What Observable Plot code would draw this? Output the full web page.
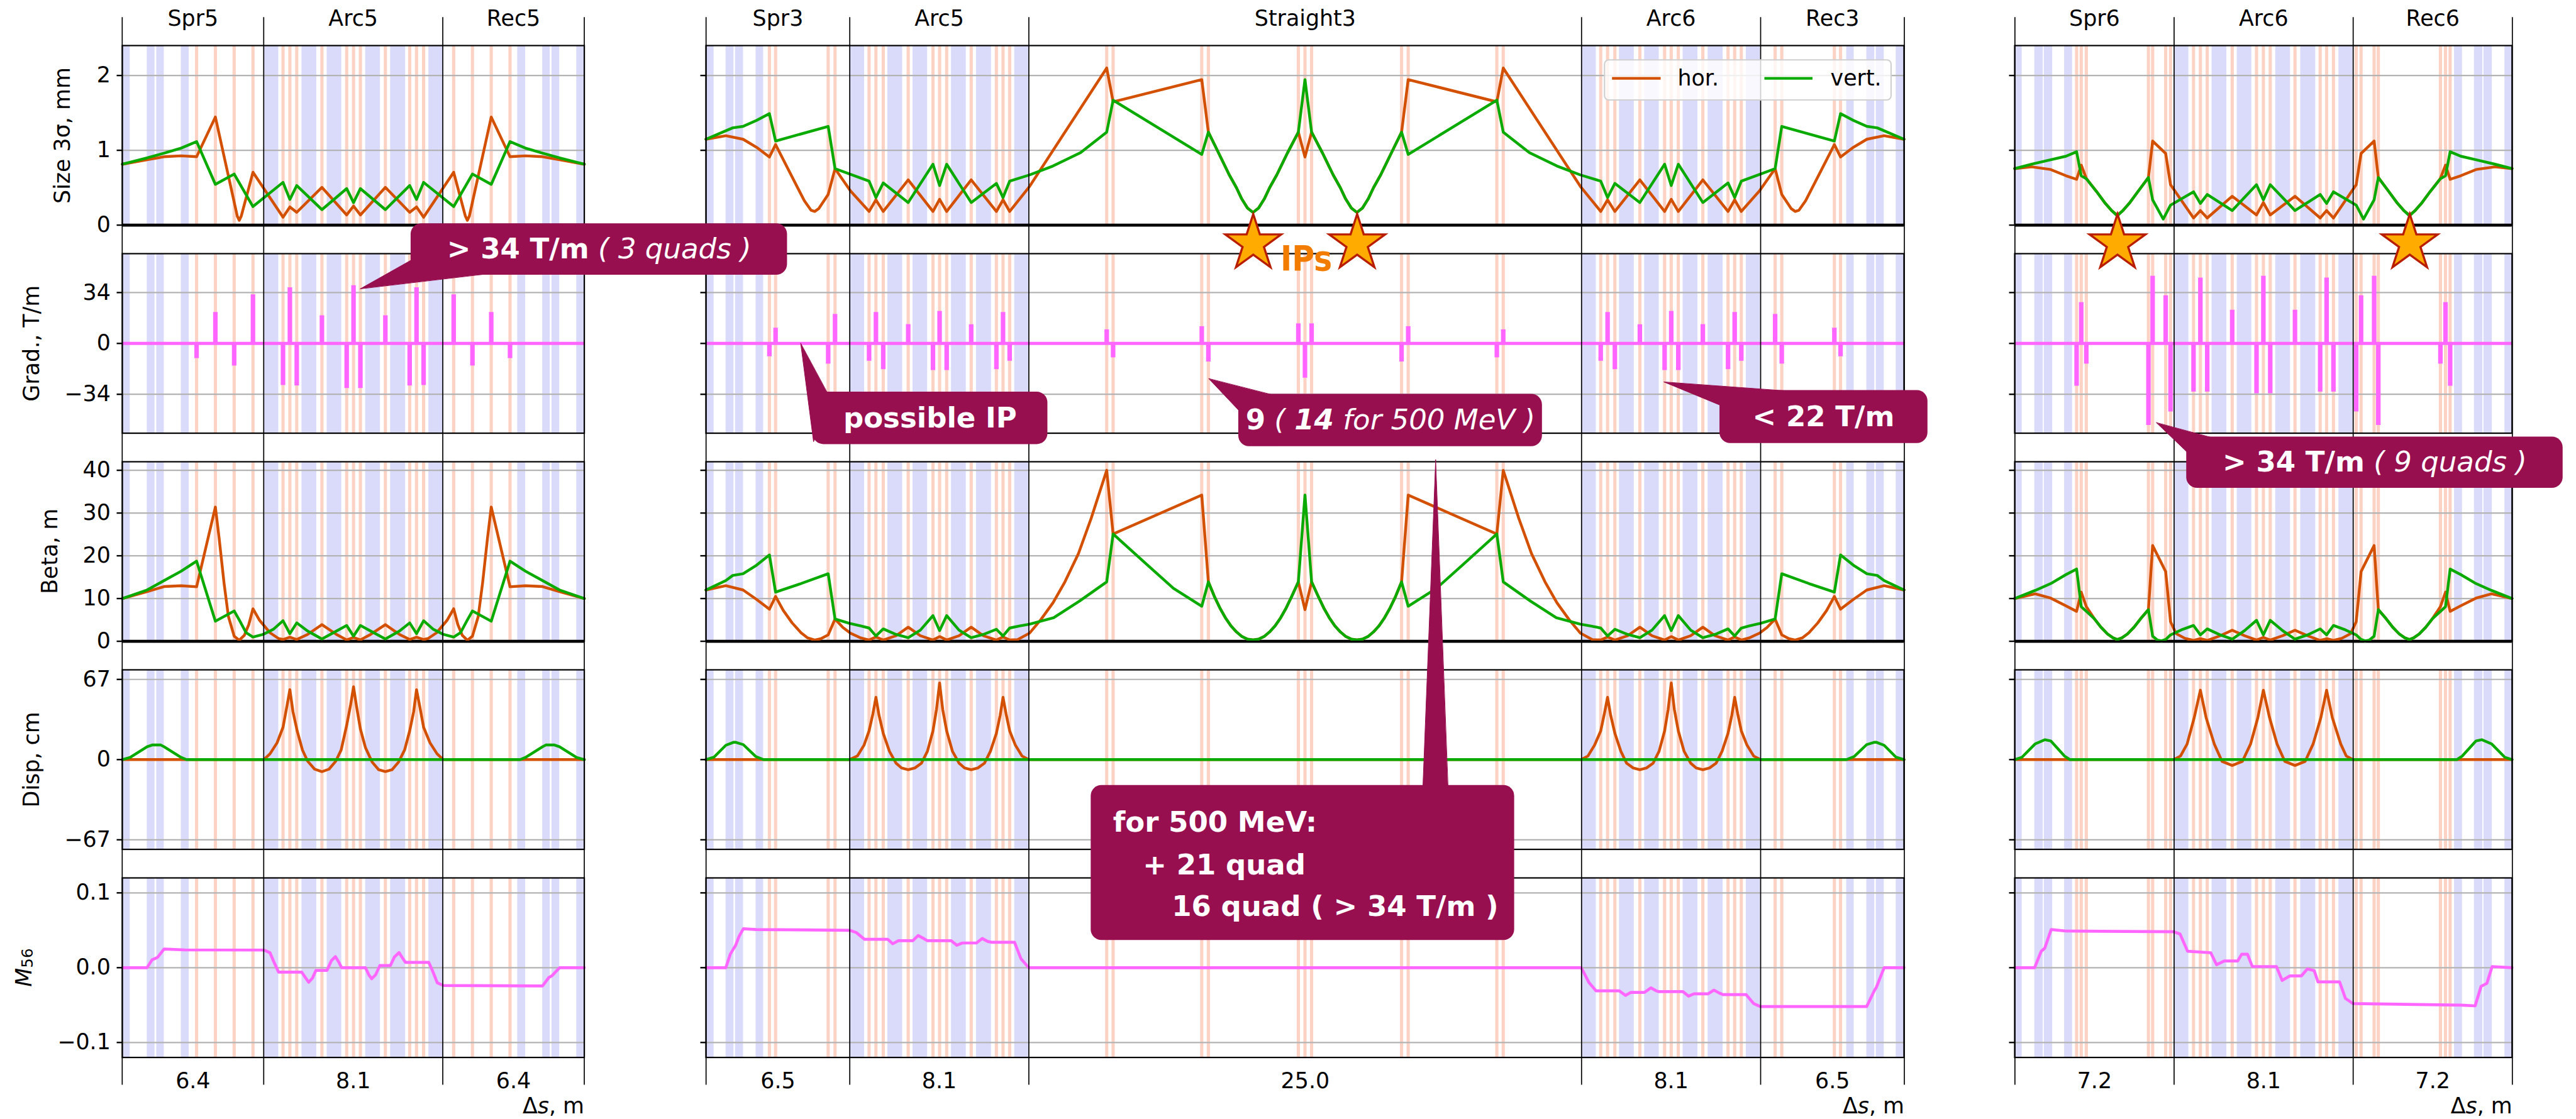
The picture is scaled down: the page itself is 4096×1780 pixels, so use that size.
<!DOCTYPE html>
<html>
<head>
<meta charset="utf-8">
<script src="https://cdn.jsdelivr.net/npm/d3@7"></script>
<script src="https://cdn.jsdelivr.net/npm/@observablehq/plot@0.6"></script>
<style>
  html, body { margin: 0; padding: 0; background: #fff; }
  #fig { position: relative; width: 4096px; height: 1780px; overflow: hidden; background: #fff; }
</style>
</head>
<body>
<div id="fig"></div>
<script>
// ---------------------------------------------------------------------------
// Lattice functions of three beamline groups (5 rows each) drawn along s.
// ---------------------------------------------------------------------------

// Sections of each group
const sectionNames = [["Spr5", "Arc5", "Rec5"], ["Spr3", "Arc5", "Straight3", "Arc6", "Rec3"], ["Spr6", "Arc6", "Rec6"]];
const sectionLengths = [[6.4, 8.1, 6.4], [6.5, 8.1, 25.0, 8.1, 6.5], [7.2, 8.1, 7.2]];

// Row labels, value ranges and tick values
const rowLabels = ["Size 3σ, mm", "Grad., T/m", "Beta, m", "Disp, cm", "M"];
const rowLabelSub = ["", "", "", "", "56"];
const rowDomains = [[0, 2.4], [-60, 60], [0, 42], [-75, 75], [-0.12, 0.12]];
const rowTicks = [[0, 1, 2], [-34, 0, 34], [0, 10, 20, 30, 40], [-67, 0, 67], [-0.1, 0, 0.1]];
const rowTickText = [["0", "1", "2"], ["−34", "0", "34"], ["0", "10", "20", "30", "40"], ["−67", "0", "67"], ["−0.1", "0.0", "0.1"]];

// Bending magnets [s start, s end] (m)
const bendsL = [[0,0.35],[1.12,1.47],[1.55,1.89],[2.66,3.02],[6.4,7.07],[8.12,8.79],[9.26,9.92],[11.0,11.67],[12.13,12.81],[13.86,14.52],[17.88,18.24],[19.01,19.35],[19.43,19.78],[20.55,20.9]];
const bendsM = [[0,0.36],[0.9,1.26],[1.33,1.69],[2.26,2.6],[6.5,7.17],[8.22,8.89],[9.36,10.02],[11.1,11.77],[12.23,12.91],[13.96,14.6],[39.6,40.27],[41.32,41.99],[42.46,43.12],[44.2,44.87],[45.33,46.01],[47.06,47.7],[51.6,51.94],[52.51,52.87],[52.94,53.3],[53.84,54.2]];
const bendsR = [[0,0.33],[0.9,1.28],[1.33,1.71],[2.25,2.61],[7.2,7.87],[8.92,9.59],[10.06,10.72],[11.8,12.47],[12.93,13.61],[14.66,15.3],[19.89,20.25],[20.79,21.17],[21.22,21.6],[22.17,22.5]];

// Quadrupoles [s (m), gradient (T/m)]
const quadsL = [[3.36,-10],[4.21,20.8],[5.06,-15],[5.91,32.6],[7.27,-28],[7.58,37.3],[7.89,-28.3],[9.03,18.6],[10.15,-30],[10.46,38.7],[10.77,-30],[11.9,18.6],[13.0,-28.3],[13.31,37.3],[13.63,-28],[14.99,32.6],[15.84,-15],[16.69,20.8],[17.54,-10]];
const quadsM = [[2.87,-8.8],[3.15,10.3],[5.53,-13.7],[5.84,19.5],[7.38,-11.8],[7.69,20.8],[8.02,-17.4],[9.15,12.7],[10.27,-18],[10.57,21.5],[10.89,-18],[12.0,12.6],[13.14,-17.4],[13.44,20.8],[13.74,-11.8],[18.13,9.2],[18.42,-9.5],[22.43,11.3],[22.73,-12.3],[26.8,13.2],[27.1,-23.1],[27.4,13.2],[31.47,-12.3],[31.77,11.3],[35.78,-9.5],[36.07,9.2],[40.48,-11.8],[40.79,20.8],[41.12,-17.4],[42.25,12.6],[43.37,-18],[43.67,21.5],[43.99,-18],[45.1,12.7],[46.24,-17.4],[46.54,20.8],[46.84,-11.8],[48.37,19.5],[48.67,-13.7],[51.05,10.3],[51.33,-8.8]];
const quadsR = [[2.8,-28.5],[3.01,27.4],[3.24,-13.7],[6.05,-54.7],[6.24,45],[6.83,32],[7.05,-45.7],[8.09,-32.4],[8.4,43.8],[8.71,-32.4],[9.84,22.3],[10.94,-33.5],[11.25,45],[11.56,-33.5],[12.68,22.3],[13.82,-32.4],[14.11,43.8],[14.42,-32.4],[15.45,-45.7],[15.67,32],[16.26,45],[16.45,-54.7],[19.26,-13.7],[19.49,27.4],[19.7,-28.5]];

// Beam size 3σ (mm): horizontal / vertical
const sizeHorL = [[0,0.814],[1.12,0.874],[1.89,0.914],[2.66,0.926],[3.36,0.914],[4.21,1.445],[5.2,0.12],[5.29,0.064],[5.38,0.12],[5.91,0.707],[7.27,0.105],[7.58,0.243],[7.89,0.171],[9.03,0.505],[10.15,0.136],[10.46,0.255],[10.77,0.136],[11.9,0.505],[13.0,0.171],[13.31,0.243],[13.63,0.105],[14.99,0.707],[15.52,0.12],[15.61,0.064],[15.7,0.12],[16.69,1.445],[17.54,0.914],[18.24,0.926],[19.01,0.914],[19.78,0.874],[20.9,0.814]];
const sizeVertL = [[0,0.814],[1.12,0.898],[1.89,0.962],[2.66,1.029],[3.36,1.117],[4.21,0.545],[5.06,0.683],[5.91,0.248],[7.27,0.571],[7.58,0.343],[7.89,0.529],[9.03,0.207],[10.15,0.488],[10.46,0.302],[10.77,0.488],[11.9,0.207],[13.0,0.529],[13.31,0.343],[13.63,0.571],[14.99,0.248],[15.84,0.683],[16.69,0.545],[17.54,1.117],[18.24,1.029],[19.01,0.962],[19.78,0.898],[20.9,0.814]];
const sizeHorM = [[0,1.148],[0.9,1.195],[1.68,1.148],[2.29,1.04],[2.87,0.91],[3.15,1.076],[4.45,0.326],[4.75,0.2],[4.92,0.183],[5.1,0.22],[5.53,0.41],[5.84,0.755],[6.54,0.457],[7.38,0.183],[7.69,0.338],[8.02,0.183],[9.15,0.605],[10.27,0.183],[10.57,0.345],[10.89,0.183],[12.0,0.605],[13.14,0.183],[13.44,0.338],[13.74,0.183],[14.64,0.517],[18.13,2.1],[18.42,1.648],[22.43,1.945],[22.73,1.243],[23.2,0.96],[23.67,0.674],[24.0,0.5],[24.24,0.35],[24.5,0.228],[24.75,0.17],[25.0,0.228],[25.26,0.35],[25.5,0.5],[25.83,0.674],[26.3,0.96],[26.8,1.243],[27.1,0.91],[27.4,1.243],[27.9,0.96],[28.37,0.674],[28.7,0.5],[28.94,0.35],[29.2,0.228],[29.45,0.17],[29.7,0.228],[29.96,0.35],[30.2,0.5],[30.53,0.674],[31.0,0.96],[31.47,1.243],[31.77,1.945],[35.78,1.648],[36.07,2.1],[39.56,0.517],[40.48,0.183],[40.79,0.338],[41.12,0.183],[42.25,0.605],[43.37,0.183],[43.67,0.345],[43.99,0.183],[45.1,0.605],[46.24,0.183],[46.54,0.338],[46.84,0.183],[47.66,0.457],[48.37,0.755],[48.67,0.41],[49.1,0.22],[49.28,0.183],[49.45,0.2],[49.75,0.326],[51.05,1.076],[51.33,0.91],[51.91,1.04],[52.52,1.148],[53.3,1.195],[54.2,1.148]];
const sizeVertM = [[0,1.148],[1.21,1.30],[1.68,1.32],[2.29,1.40],[2.87,1.49],[3.15,1.124],[5.53,1.32],[5.84,0.755],[7.38,0.588],[7.69,0.369],[8.02,0.564],[9.15,0.302],[10.27,0.814],[10.57,0.529],[10.89,0.814],[12.0,0.302],[13.14,0.557],[13.44,0.369],[13.74,0.588],[14.64,0.671],[15.7,0.79],[16.95,0.97],[18.13,1.243],[18.42,1.67],[22.43,0.945],[22.73,1.243],[23.2,0.96],[23.67,0.674],[24.0,0.5],[24.24,0.35],[24.5,0.228],[24.75,0.17],[25.0,0.228],[25.26,0.35],[25.5,0.5],[25.83,0.674],[26.3,0.96],[26.8,1.243],[27.1,1.945],[27.4,1.243],[27.9,0.96],[28.37,0.674],[28.7,0.5],[28.94,0.35],[29.2,0.228],[29.45,0.17],[29.7,0.228],[29.96,0.35],[30.2,0.5],[30.53,0.674],[31.0,0.96],[31.47,1.243],[31.77,0.945],[35.78,1.67],[36.07,1.243],[37.25,0.97],[38.5,0.79],[39.56,0.671],[40.48,0.588],[40.79,0.369],[41.12,0.557],[42.25,0.302],[43.37,0.814],[43.67,0.529],[43.99,0.814],[45.1,0.302],[46.24,0.564],[46.54,0.369],[46.84,0.588],[48.37,0.755],[48.67,1.32],[51.05,1.124],[51.33,1.49],[51.91,1.40],[52.52,1.32],[52.99,1.30],[54.2,1.148]];
const sizeHorR = [[0,0.755],[0.77,0.779],[1.63,0.743],[2.32,0.66],[2.8,0.612],[3.01,0.802],[3.24,0.624],[3.7,0.45],[4.1,0.29],[4.4,0.19],[4.64,0.136],[4.88,0.19],[5.18,0.29],[5.58,0.45],[6.05,0.636],[6.24,1.124],[6.83,0.957],[7.05,0.54],[8.09,0.095],[8.4,0.195],[8.71,0.095],[9.84,0.386],[10.94,0.136],[11.25,0.3],[11.56,0.136],[12.68,0.386],[13.82,0.095],[14.11,0.195],[14.42,0.095],[15.45,0.54],[15.67,0.957],[16.26,1.124],[16.45,0.636],[16.92,0.45],[17.32,0.29],[17.62,0.19],[17.86,0.136],[18.1,0.19],[18.4,0.29],[18.8,0.45],[19.26,0.624],[19.49,0.802],[19.7,0.612],[20.18,0.66],[20.87,0.743],[21.73,0.779],[22.5,0.755]];
const sizeVertR = [[0,0.755],[0.77,0.814],[1.63,0.874],[2.32,0.921],[2.8,0.981],[3.01,0.66],[3.24,0.62],[3.7,0.45],[4.1,0.29],[4.4,0.19],[4.64,0.124],[4.88,0.19],[5.18,0.29],[5.58,0.45],[6.05,0.636],[6.24,0.338],[6.72,0.081],[7.05,0.267],[8.09,0.445],[8.4,0.29],[8.71,0.41],[9.84,0.195],[10.94,0.54],[11.25,0.338],[11.56,0.54],[12.68,0.195],[13.82,0.41],[14.11,0.29],[14.42,0.445],[15.45,0.267],[15.78,0.081],[16.26,0.338],[16.45,0.636],[16.92,0.45],[17.32,0.29],[17.62,0.19],[17.86,0.124],[18.1,0.19],[18.4,0.29],[18.8,0.45],[19.26,0.62],[19.49,0.66],[19.7,0.981],[20.18,0.921],[20.87,0.874],[21.73,0.814],[22.5,0.755]];

// Beta functions (m): horizontal / vertical
const betaHorL = [[0,10],[1.12,11.6],[1.89,12.8],[2.66,13.0],[3.36,12.75],[4.21,31.4],[4.38,24.1],[4.6,13.7],[4.8,5.75],[5.06,1.2],[5.29,0.25],[5.52,1.4],[5.72,3.9],[5.91,7.6],[6.21,4.9],[6.68,2.0],[7.06,0.67],[7.27,0.42],[7.58,0.96],[7.89,0.42],[8.38,1.6],[9.03,3.9],[9.69,1.6],[10.15,0.33],[10.46,0.9],[10.77,0.33],[11.23,1.6],[11.9,3.9],[12.54,1.6],[13.0,0.42],[13.31,0.96],[13.63,0.42],[13.84,0.67],[14.22,2.0],[14.69,4.9],[14.99,7.6],[15.18,3.9],[15.38,1.4],[15.61,0.25],[15.84,1.2],[16.1,5.75],[16.3,13.7],[16.52,24.1],[16.69,31.4],[17.54,12.75],[18.24,13.0],[19.01,12.8],[19.78,11.6],[20.9,10]];
const betaVertL = [[0,10],[1.12,12.0],[1.89,14.2],[2.66,16.4],[3.36,18.75],[4.21,4.7],[5.06,7.1],[5.3,4.9],[5.6,2.0],[5.91,1.0],[6.37,1.6],[6.83,2.8],[7.27,4.8],[7.58,1.8],[7.89,4.3],[8.38,2.4],[9.03,0.54],[9.69,2.4],[10.15,3.7],[10.46,1.2],[10.77,3.7],[11.23,2.4],[11.9,0.54],[12.54,2.4],[13.0,4.3],[13.31,1.8],[13.63,4.8],[14.07,2.8],[14.53,1.6],[14.99,1.0],[15.3,2.0],[15.6,4.9],[15.84,7.1],[16.69,4.7],[17.54,18.75],[18.24,16.4],[19.01,14.2],[19.78,12.0],[20.9,10]];
const betaHorM = [[0,12.0],[0.9,13.0],[1.68,12.0],[2.29,9.8],[2.87,7.5],[3.15,10.5],[3.5,7.2],[3.9,4.3],[4.3,2.0],[4.6,0.8],[4.92,0.3],[5.2,0.6],[5.53,1.5],[5.84,5.2],[6.2,3.2],[6.54,1.9],[7.0,0.8],[7.38,0.3],[7.69,1.0],[8.02,0.3],[8.6,1.3],[9.15,3.3],[9.7,1.3],[10.27,0.3],[10.57,1.1],[10.89,0.3],[11.45,1.3],[12.0,3.3],[12.55,1.3],[13.14,0.3],[13.44,1.0],[13.74,0.3],[14.1,0.4],[14.64,1.9],[15.14,5.0],[15.7,9.0],[16.24,13.9],[16.85,20.5],[17.43,28.8],[18.13,40.0],[18.42,25.1],[22.43,34.2],[22.73,13.9],[23.0,10.5],[23.25,7.8],[23.5,5.5],[23.75,3.6],[24.0,2.2],[24.25,1.1],[24.5,0.5],[24.75,0.3],[25.0,0.5],[25.25,1.1],[25.5,2.2],[25.75,3.6],[26.0,5.5],[26.25,7.8],[26.5,10.5],[26.8,13.9],[27.1,7.4],[27.4,13.9],[27.7,10.5],[27.95,7.8],[28.2,5.5],[28.45,3.6],[28.7,2.2],[28.95,1.1],[29.2,0.5],[29.45,0.3],[29.7,0.5],[29.95,1.1],[30.2,2.2],[30.45,3.6],[30.7,5.5],[30.95,7.8],[31.2,10.5],[31.47,13.9],[31.77,34.2],[35.78,25.1],[36.07,40.0],[36.77,28.8],[37.35,20.5],[37.96,13.9],[38.5,9.0],[39.06,5.0],[39.56,1.9],[40.1,0.4],[40.48,0.3],[40.79,1.0],[41.12,0.3],[41.7,1.3],[42.25,3.3],[42.8,1.3],[43.37,0.3],[43.67,1.1],[43.99,0.3],[44.55,1.3],[45.1,3.3],[45.65,1.3],[46.24,0.3],[46.54,1.0],[46.84,0.3],[47.2,0.8],[47.66,1.9],[48.0,3.2],[48.37,5.2],[48.67,1.5],[49.0,0.6],[49.28,0.3],[49.6,0.8],[49.9,2.0],[50.3,4.3],[50.7,7.2],[51.05,10.5],[51.33,7.5],[51.91,9.8],[52.52,12.0],[53.3,13.0],[54.2,12.0]];
const betaVertM = [[0,12.0],[0.9,14.2],[1.21,15.4],[1.68,15.8],[2.29,17.8],[2.87,20.2],[3.15,11.5],[4.3,13.5],[5.53,15.8],[5.84,5.2],[6.5,4.2],[7.0,3.6],[7.38,3.1],[7.69,1.24],[8.02,2.9],[8.6,1.6],[9.15,0.83],[9.7,2.6],[10.27,6.0],[10.57,2.5],[10.89,6.0],[11.45,2.6],[12.0,0.83],[12.55,1.6],[13.14,2.8],[13.44,1.24],[13.74,3.1],[14.2,3.6],[14.64,4.0],[15.73,5.5],[16.9,9.4],[18.13,13.9],[18.42,25.1],[19.96,17.9],[21.15,12.4],[22.43,8.2],[22.73,13.9],[23.0,10.5],[23.25,7.8],[23.5,5.5],[23.75,3.6],[24.0,2.2],[24.25,1.1],[24.5,0.5],[24.75,0.3],[25.0,0.5],[25.25,1.1],[25.5,2.2],[25.75,3.6],[26.0,5.5],[26.25,7.8],[26.5,10.5],[26.8,13.9],[27.1,34.2],[27.4,13.9],[27.7,10.5],[27.95,7.8],[28.2,5.5],[28.45,3.6],[28.7,2.2],[28.95,1.1],[29.2,0.5],[29.45,0.3],[29.7,0.5],[29.95,1.1],[30.2,2.2],[30.45,3.6],[30.7,5.5],[30.95,7.8],[31.2,10.5],[31.47,13.9],[31.77,8.2],[33.05,12.4],[34.24,17.9],[35.78,25.1],[36.07,13.9],[37.3,9.4],[38.47,5.5],[39.56,4.0],[40.0,3.6],[40.48,3.1],[40.79,1.24],[41.12,2.8],[41.7,1.6],[42.25,0.83],[42.8,2.6],[43.37,6.0],[43.67,2.5],[43.99,6.0],[44.55,2.6],[45.1,0.83],[45.65,1.6],[46.24,2.9],[46.54,1.24],[46.84,3.1],[47.2,3.6],[47.7,4.2],[48.37,5.2],[48.67,15.8],[49.9,13.5],[51.05,11.5],[51.33,20.2],[51.91,17.8],[52.52,15.8],[52.99,15.4],[53.3,14.2],[54.2,12.0]];
const betaHorR = [[0,10],[0.93,11.1],[1.63,10.1],[2.32,8.3],[2.8,7.0],[3.01,11.5],[3.24,8.1],[3.6,5.3],[3.9,3.3],[4.2,1.7],[4.45,0.8],[4.64,0.4],[4.85,0.8],[5.1,1.7],[5.4,3.3],[5.7,5.3],[6.05,7.4],[6.24,22.4],[6.83,16.3],[7.05,4.6],[7.3,1.8],[7.7,0.7],[8.09,0.2],[8.4,0.6],[8.71,0.2],[9.3,1.3],[9.84,2.6],[10.4,1.3],[10.94,0.3],[11.25,0.9],[11.56,0.3],[12.12,1.3],[12.68,2.6],[13.25,1.3],[13.82,0.2],[14.11,0.6],[14.42,0.2],[14.8,0.7],[15.2,1.8],[15.45,4.6],[15.67,16.3],[16.26,22.4],[16.45,7.4],[16.8,5.3],[17.1,3.3],[17.4,1.7],[17.65,0.8],[17.86,0.4],[18.05,0.8],[18.3,1.7],[18.6,3.3],[18.9,5.3],[19.26,8.1],[19.49,11.5],[19.7,7.0],[20.18,8.3],[20.87,10.1],[21.57,11.1],[22.5,10]];
const betaVertR = [[0,10],[0.93,11.9],[1.63,13.5],[2.32,15.6],[2.8,16.9],[3.01,8.1],[3.24,7.0],[3.6,5.3],[3.9,3.3],[4.2,1.7],[4.45,0.8],[4.64,0.4],[4.85,0.8],[5.1,1.7],[5.4,3.3],[5.7,5.3],[6.05,7.4],[6.24,1.2],[6.45,0.3],[6.65,0.1],[6.85,0.5],[7.05,1.5],[7.6,2.8],[8.09,3.7],[8.4,1.5],[8.71,2.9],[9.3,1.5],[9.84,0.5],[10.4,2.5],[10.94,4.9],[11.25,1.5],[11.56,4.9],[12.12,2.5],[12.68,0.5],[13.25,1.5],[13.82,2.9],[14.11,1.5],[14.42,3.7],[14.9,2.8],[15.45,1.5],[15.65,0.5],[15.85,0.1],[16.05,0.3],[16.26,1.2],[16.45,7.4],[16.8,5.3],[17.1,3.3],[17.4,1.7],[17.65,0.8],[17.86,0.4],[18.05,0.8],[18.3,1.7],[18.6,3.3],[18.9,5.3],[19.26,7.0],[19.49,8.1],[19.7,16.9],[20.18,15.6],[20.87,13.5],[21.57,11.9],[22.5,10]];

// Dispersion (cm): horizontal / vertical
const dispHorL = [[0,0],[6.4,0],[6.68,4.8],[7.0,14],[7.27,27],[7.45,45],[7.58,58.4],[7.72,40],[7.91,24],[8.15,8],[8.38,-1.2],[8.7,-8],[9.03,-10.1],[9.35,-8],[9.65,-1.5],[9.9,8],[10.15,28.6],[10.33,46],[10.46,60.8],[10.6,44],[10.77,25.6],[11.0,10],[11.3,-2],[11.6,-8.5],[11.9,-10],[12.2,-8.5],[12.5,-2],[12.77,8],[13.0,24],[13.18,40],[13.31,58.4],[13.45,45],[13.63,27],[13.92,14],[14.24,4.8],[14.52,0],[20.9,0]];
const dispVertL = [[0,0],[0.35,1.8],[1.12,10.7],[1.35,12.2],[1.74,12.2],[1.89,10.7],[2.66,1.8],[2.9,0],[18.0,0],[18.24,1.8],[19.01,10.7],[19.16,12.2],[19.55,12.2],[19.78,10.7],[20.55,1.8],[20.9,0]];
const dispHorM = [[0,0],[6.5,0],[6.85,3],[7.15,12],[7.38,24],[7.55,38],[7.69,52],[7.83,37],[8.02,22],[8.3,7],[8.6,-3],[8.85,-7],[9.15,-8.5],[9.45,-7],[9.75,-3],[10.02,7],[10.27,24],[10.43,42],[10.57,64],[10.71,42],[10.89,24],[11.15,7],[11.45,-3],[11.7,-7],[12.0,-8.5],[12.3,-7],[12.6,-3],[12.87,7],[13.14,22],[13.31,37],[13.44,52],[13.58,38],[13.74,24],[14.0,12],[14.3,3],[14.6,0],[39.6,0],[39.9,3],[40.2,12],[40.48,24],[40.64,38],[40.79,52],[40.93,37],[41.12,22],[41.39,7],[41.65,-3],[41.95,-7],[42.25,-8.5],[42.55,-7],[42.85,-3],[43.12,7],[43.37,24],[43.53,42],[43.67,64],[43.81,42],[43.99,24],[44.25,7],[44.55,-3],[44.8,-7],[45.1,-8.5],[45.4,-7],[45.7,-3],[45.97,7],[46.24,22],[46.41,37],[46.54,52],[46.68,38],[46.84,24],[47.1,12],[47.4,3],[47.7,0],[54.2,0]];
const dispVertM = [[0,0],[0.36,2],[0.9,12],[1.26,14.5],[1.33,14.5],[1.69,12.5],[2.26,2.5],[2.6,0],[51.6,0],[51.94,2.5],[52.51,12.5],[52.87,14.5],[52.94,14.5],[53.3,12],[53.84,2],[54.2,0]];
const dispHorR = [[0,0],[7.2,0],[7.5,3],[7.8,13],[8.12,35],[8.4,58],[8.66,35],[9.03,13],[9.38,-1.5],[9.84,-4.9],[10.3,-1.5],[10.67,13],[11.0,35],[11.25,58],[11.53,35],[11.87,13],[12.22,-1.5],[12.68,-4.9],[13.14,-1.5],[13.5,13],[13.85,35],[14.11,58],[14.37,35],[14.75,13],[15.0,3],[15.3,0],[22.5,0]];
const dispVertR = [[0,0],[0.33,2],[0.93,13.2],[1.36,16.6],[1.63,15.6],[2.25,3],[2.5,0],[20.0,0],[20.25,3],[20.87,15.6],[21.14,16.6],[21.57,13.2],[22.17,2],[22.5,0]];

// Longitudinal transfer element M56
const m56L = [[0,0],[1.12,0],[1.35,0.0107],[1.5,0.0124],[1.6,0.014],[1.89,0.025],[2.82,0.0238],[6.4,0.0236],[6.68,0.020],[6.83,0.0095],[7.07,-0.006],[8.12,-0.006],[8.3,-0.014],[8.43,-0.0195],[8.6,-0.014],[8.76,-0.0036],[9.26,-0.0036],[9.46,0.0095],[9.64,0.0148],[9.8,0.0071],[9.92,0],[11.0,0],[11.15,-0.0095],[11.28,-0.0148],[11.46,-0.0095],[11.65,0.0029],[12.13,0.0029],[12.31,0.0143],[12.52,0.0202],[12.7,0.0119],[12.81,0.0071],[13.86,0.0071],[14.01,-0.0024],[14.25,-0.0202],[14.52,-0.0238],[19.01,-0.0245],[19.3,-0.013],[19.43,-0.011],[19.78,0],[20.9,0]];
const m56M = [[0,0],[0.9,0],[1.1,0.018],[1.26,0.026],[1.33,0.029],[1.5,0.042],[1.69,0.052],[2.26,0.051],[6.5,0.05],[6.8,0.047],[7.17,0.038],[8.22,0.038],[8.45,0.032],[8.7,0.036],[9.36,0.036],[9.6,0.043],[9.85,0.039],[10.02,0.036],[11.1,0.036],[11.35,0.03],[11.6,0.033],[12.23,0.033],[12.5,0.039],[12.75,0.035],[12.91,0.034],[13.96,0.034],[14.25,0.012],[14.6,0],[39.6,0],[39.95,-0.02],[40.27,-0.031],[41.32,-0.031],[41.6,-0.037],[41.85,-0.033],[42.46,-0.033],[42.75,-0.027],[43.0,-0.031],[43.12,-0.032],[44.2,-0.032],[44.45,-0.038],[44.7,-0.035],[45.33,-0.035],[45.6,-0.03],[45.85,-0.034],[46.01,-0.036],[47.06,-0.036],[47.4,-0.048],[47.7,-0.052],[52.51,-0.052],[52.87,-0.03],[52.94,-0.027],[53.3,0],[54.2,0]];
const m56R = [[0,0],[0.9,0],[1.2,0.022],[1.36,0.026],[1.65,0.051],[2.32,0.049],[7.2,0.048],[7.48,0.045],[7.82,0.022],[8.87,0.02],[9.13,0.004],[9.48,0.009],[10.09,0.009],[10.27,0.018],[10.53,0.018],[10.75,0.0015],[11.84,0.0015],[12.1,-0.017],[12.45,-0.011],[12.97,-0.011],[13.24,-0.0016],[13.55,-0.004],[13.72,-0.019],[14.7,-0.019],[14.96,-0.041],[15.3,-0.048],[20.2,-0.05],[20.83,-0.051],[21.1,-0.025],[21.36,-0.021],[21.6,0.0015],[22.5,0]];

// Interaction points: [group, s]
const interactionPoints = [[1, 24.75], [1, 29.45], [2, 4.64], [2, 17.86]];

// Callout texts: each part is [text, style] with style b = bold, i = italic
const calloutTexts = [
  [[["> 34 T/m", "b"], [" ( 3 quads )", "i"]]],
  [[["possible IP", "b"]]],
  [[["9", "b"], [" ( ", "i"], ["14", "bi"], [" for 500 MeV )", "i"]]],
  [[["< 22 T/m", "b"]]],
  [[["> 34 T/m", "b"], [" ( 9 quads )", "i"]]],
  [[["for 500 MeV:", "b"]], [["+ 21 quad", "b"]], [["16 quad ( > 34 T/m )", "b"]]]
];
// Points the callouts aim at: [group, row, s, value]
const calloutTargets = [[0, 1, 10.77, 36.5], [1, 1, 4.28, 0], [1, 1, 22.74, -23.6], [1, 1, 43.33, -25.8], [2, 1, 6.4, -53], [1, 2, 33.0, 42.4]];

// ---------------------------------------------------------------------------
// Layout (reference units; everything is drawn at K of that size)
// ---------------------------------------------------------------------------
const K = 0.85;
const FONT = "DejaVu Sans";
const PXM = 41.35;                       // units per metre along s
const GROUP_X0 = [228, 1320, 3768];
const ROW_TOPS = [85, 474, 863, 1253, 1642];
const ROW_H = 336;
const HEADER_Y = 35, RULE_Y1 = 32, RULE_Y2 = 2030, LENGTH_Y = 2023, DS_Y = 2070;
const YLABEL_X = [117, 59, 93, 59, 45];
const FS = 41, FS_SUB = 29, FS_NOTE = 53, FS_IPS = 64;
const STAR_Y = 455;
const LEGEND = {x1: 3001, x2: 3537, y1: 112, y2: 187, y: 146, items: [[3015, 3106, 3137, "hor."], [3300, 3390, 3423, "vert."]]};
const CALLOUT_BOX = [[768, 1472, 418, 514], [1520, 1959, 733, 831], [2316, 2884, 737, 835], [3216, 3605, 730, 829], [4089, 4793, 817, 913], [2040, 2832, 1469, 1759]];
const CALLOUT_BASE = [[[815, 460], [934, 509]], [[1521, 826], [1556, 752]], [[2333, 785], [2397, 743]], [[3237, 766], [3437, 738]], [[4100, 855], [4160, 825]], [[2660, 1490], [2708, 1490]]];
const CALLOUT_TEXT_POS = [[[1120, 466, "middle"]], [[1739, 782, "middle"]], [[2600, 786, "middle"]], [[3410, 780, "middle"]], [[4441, 865, "middle"]], [[2081, 1539, "start"], [2137, 1619, "start"], [2191, 1696, "start"]]];

const HOR = "#d35000", VERT = "#0aaa00", MAGENTA = "#ff66ff";
const BEND_FILL = "#dadafa", QUAD_LINE = "#fcd2c5", GRID = "#b3b3b3";
const BOX = "#980f50", STAR_FILL = "#ffab00", STAR_EDGE = "#b81d00", IPS_COLOR = "#f27c00";
const LW_CURVE = 5.2, LW_BAR = 8.5, LW_BASE = 6, LW_M56 = 5.5, LW_QUAD = 6;

const bends = [bendsL, bendsM, bendsR];
const quads = [quadsL, quadsM, quadsR];
const planeSeries = {0: [[sizeHorL, sizeVertL], [sizeHorM, sizeVertM], [sizeHorR, sizeVertR]],
                     2: [[betaHorL, betaVertL], [betaHorM, betaVertM], [betaHorR, betaVertR]],
                     3: [[dispHorL, dispVertL], [dispHorM, dispVertM], [dispHorR, dispVertR]]};
const m56 = [m56L, m56M, m56R];

const fx = (g, s) => GROUP_X0[g] + s * PXM;
const fy = (p, v) => { const [lo, hi] = rowDomains[p]; return ROW_TOPS[p] + (hi - v) / (hi - lo) * ROW_H; };

const fig = document.getElementById("fig");
function place(el, left, top) {
  el.style.position = "absolute";
  el.style.left = left + "px";
  el.style.top = top + "px";
  el.style.maxWidth = "none";
  fig.appendChild(el);
}
const svgStyle = {background: "transparent", overflow: "visible", fontFamily: FONT};

// ---------------------------------------------------------------------------
// One plot per row and group
// ---------------------------------------------------------------------------
const xy = {x: d => d[0], y: d => d[1]};
for (let g = 0; g < 3; g++) {
  const len = d3.sum(sectionLengths[g]);
  for (let p = 0; p < 5; p++) {
    const [lo, hi] = rowDomains[p];
    const mL = 100, mR = 8, mT = 8, mB = 8;
    const w = len * PXM * K, h = ROW_H * K;
    const thickZero = p === 0 || p === 2;
    const fmt = new Map(rowTicks[p].map((t, i) => [t, rowTickText[p][i]]));
    const marks = [
      Plot.rect(bends[g], {x1: d => d[0], x2: d => d[1], y1: lo, y2: hi, fill: BEND_FILL}),
      Plot.ruleX(quads[g], {x: d => d[0], stroke: QUAD_LINE, strokeWidth: LW_QUAD * K}),
      Plot.ruleY(rowTicks[p].filter(t => !(thickZero && t === 0)), {stroke: GRID, strokeWidth: 2.6 * K})
    ];
    if (thickZero) marks.push(Plot.ruleY([0], {stroke: "#000", strokeWidth: 5.5 * K}));
    if (p === 1) {
      marks.push(Plot.ruleY([0], {stroke: MAGENTA, strokeWidth: LW_BASE * K}));
      marks.push(Plot.ruleX(quads[g], {x: d => d[0], y1: 0, y2: d => d[1], stroke: MAGENTA, strokeWidth: LW_BAR * K}));
    } else if (p === 4) {
      marks.push(Plot.line(m56[g], {...xy, stroke: MAGENTA, strokeWidth: LW_M56 * K, strokeLinejoin: "round"}));
    } else {
      const [hor, vert] = planeSeries[p][g];
      marks.push(Plot.line(hor, {...xy, stroke: HOR, strokeWidth: LW_CURVE * K, strokeLinejoin: "round"}));
      marks.push(Plot.line(vert, {...xy, stroke: VERT, strokeWidth: LW_CURVE * K, strokeLinejoin: "round"}));
    }
    marks.push(Plot.frame({stroke: "#000", strokeWidth: 2.6 * K}));
    marks.push(Plot.axisY(rowTicks[p], {
      label: null, tickSize: 10 * K, tickPadding: 12 * K, strokeWidth: 2.8 * K,
      fontSize: FS * K, fill: "#000", stroke: "#000",
      tickFormat: g === 0 ? (d => fmt.get(d)) : (() => "")
    }));
    const svg = Plot.plot({
      width: w + mL + mR, height: h + mT + mB,
      marginLeft: mL, marginRight: mR, marginTop: mT, marginBottom: mB,
      x: {domain: [0, len], axis: null},
      y: {domain: [lo, hi], label: null},
      style: svgStyle,
      marks
    });
    place(svg, GROUP_X0[g] * K - mL, ROW_TOPS[p] * K - mT);
  }
}

// ---------------------------------------------------------------------------
// Figure-level overlay: section rules and names, lengths, row labels,
// legend, interaction points and callouts
// ---------------------------------------------------------------------------
const ctx = document.createElement("canvas").getContext("2d");
function measure(t, size, st) {
  ctx.font = `${st.includes("i") ? "italic " : ""}${st.includes("b") ? "bold " : ""}${size * K}px "${FONT}"`;
  return ctx.measureText(t).width / K;
}
const segs = [];
function layoutParts(parts, x, y, anchor, size, fill) {
  const widths = parts.map(([t, st]) => measure(t, size, st));
  const total = d3.sum(widths);
  let cx = anchor === "middle" ? x - total / 2 : anchor === "end" ? x - total : x;
  parts.forEach(([t, st], i) => {
    const lead = t.length - t.trimStart().length;
    const body = t.trim();
    if (body) segs.push({x: cx + measure(t.slice(0, lead), size, st), y, t: body, st, size, fill});
    cx += widths[i];
  });
}

const rules = [], sections = [], groupEnds = [];
sectionLengths.forEach((lens, g) => {
  let acc = 0;
  rules.push({x: fx(g, 0)});
  lens.forEach((L, j) => {
    sections.push({name: sectionNames[g][j], len: L, x: fx(g, acc + L / 2)});
    acc += L;
    rules.push({x: fx(g, acc)});
  });
  groupEnds.push(fx(g, acc));
});
groupEnds.forEach(x => layoutParts([["Δ", ""], ["s", "i"], [", m", ""]], x, DS_Y, "end", FS, "#000"));

calloutTexts.forEach((lines, c) => {
  lines.forEach((parts, k) => {
    const [x, y, anchor] = CALLOUT_TEXT_POS[c][k];
    layoutParts(parts, x, y, anchor, FS_NOTE, "#fff");
  });
});

const wedgePts = [];
calloutTargets.forEach(([g, p, s, v], c) => {
  [[fx(g, s), fy(p, v)], ...CALLOUT_BASE[c]].forEach(([x, y]) => wedgePts.push({id: c, x, y}));
});
const boxes = CALLOUT_BOX.map(([x1, x2, y1, y2]) => ({x1, x2, y1, y2}));

// Row labels (rotated); the last one is an italic symbol with a subscript
const rowLabelData = [], rowLabelItalic = [], rowLabelSubs = [];
rowLabels.forEach((t, p) => {
  const yc = ROW_TOPS[p] + ROW_H / 2;
  if (!rowLabelSub[p]) { rowLabelData.push({t, x: YLABEL_X[p], y: yc}); return; }
  const wMain = measure(t, FS, "i"), wSub = measure(rowLabelSub[p], FS_SUB, "");
  const total = wMain + wSub;
  rowLabelItalic.push({t, x: YLABEL_X[p], y: yc + total / 2 - wMain / 2});
  rowLabelSubs.push({t: rowLabelSub[p], x: YLABEL_X[p] + 6, y: yc - total / 2 + wSub / 2});
});
const stars = interactionPoints.map(([g, s]) => ({x: fx(g, s), y: STAR_Y}));

const overlayMarks = [
  Plot.ruleX(rules, {x: "x", y1: RULE_Y1, y2: RULE_Y2, stroke: "#000", strokeWidth: 2 * K}),
  Plot.text(sections, {x: "x", y: HEADER_Y, text: "name", fontSize: FS * K, fill: "#000"}),
  Plot.text(sections, {x: "x", y: LENGTH_Y, text: d => d.len.toFixed(1), fontSize: FS * K, fill: "#000"}),
  Plot.text(rowLabelData, {x: "x", y: "y", text: "t", rotate: -90, fontSize: FS * K, fill: "#000"}),
  Plot.text(rowLabelItalic, {x: "x", y: "y", text: "t", rotate: -90, fontSize: FS * K, fontStyle: "italic", fill: "#000"}),
  Plot.text(rowLabelSubs, {x: "x", y: "y", text: "t", rotate: -90, fontSize: FS_SUB * K, fill: "#000"}),
  // legend
  Plot.rect([LEGEND], {x1: "x1", x2: "x2", y1: "y1", y2: "y2", fill: "#fff", fillOpacity: 0.8, stroke: "#d0d0d0", strokeWidth: 2.5 * K, rx: 8 * K}),
  Plot.ruleY([LEGEND.items[0]], {y: LEGEND.y, x1: d => d[0], x2: d => d[1], stroke: HOR, strokeWidth: LW_CURVE * K}),
  Plot.ruleY([LEGEND.items[1]], {y: LEGEND.y, x1: d => d[0], x2: d => d[1], stroke: VERT, strokeWidth: LW_CURVE * K}),
  Plot.text(LEGEND.items, {x: d => d[2], y: LEGEND.y, text: d => d[3], textAnchor: "start", fontSize: FS * K, fill: "#000"}),
  // interaction points
  Plot.dot(stars, {x: "x", y: "y", symbol: "star", r: 55 * K / 1.673, fill: STAR_FILL, stroke: STAR_EDGE, strokeWidth: 4 * K}),
  Plot.text([{x: (stars[0].x + stars[1].x) / 2 + 2, y: STAR_Y + 30}], {x: "x", y: "y", text: () => "IPs", fontSize: FS_IPS * K, fontWeight: "bold", fontFamily: "DejaVu Sans Condensed, DejaVu Sans", fill: IPS_COLOR}),
  // callouts
  Plot.line(wedgePts, {x: "x", y: "y", z: "id", curve: "linear-closed", fill: BOX, stroke: BOX, strokeWidth: 1}),
  Plot.rect(boxes, {x1: "x1", x2: "x2", y1: "y1", y2: "y2", fill: BOX, rx: 20 * K})
];
for (const [, arr] of d3.groups(segs, d => `${d.st}|${d.size}|${d.fill}`)) {
  const {st, size, fill} = arr[0];
  overlayMarks.push(Plot.text(arr, {
    x: "x", y: "y", text: "t", textAnchor: "start", fontSize: size * K, fill,
    fontWeight: st.includes("b") ? "bold" : "normal",
    fontStyle: st.includes("i") ? "italic" : "normal"
  }));
}

const overlay = Plot.plot({
  width: 4096, height: 1780,
  marginLeft: 0, marginRight: 0, marginTop: 0, marginBottom: 0,
  x: {domain: [0, 4818], range: [0, 4096], axis: null},
  y: {domain: [0, 2094], range: [0, 1780], axis: null},
  style: svgStyle,
  marks: overlayMarks
});
place(overlay, 0, 0);
</script>
</body>
</html>
